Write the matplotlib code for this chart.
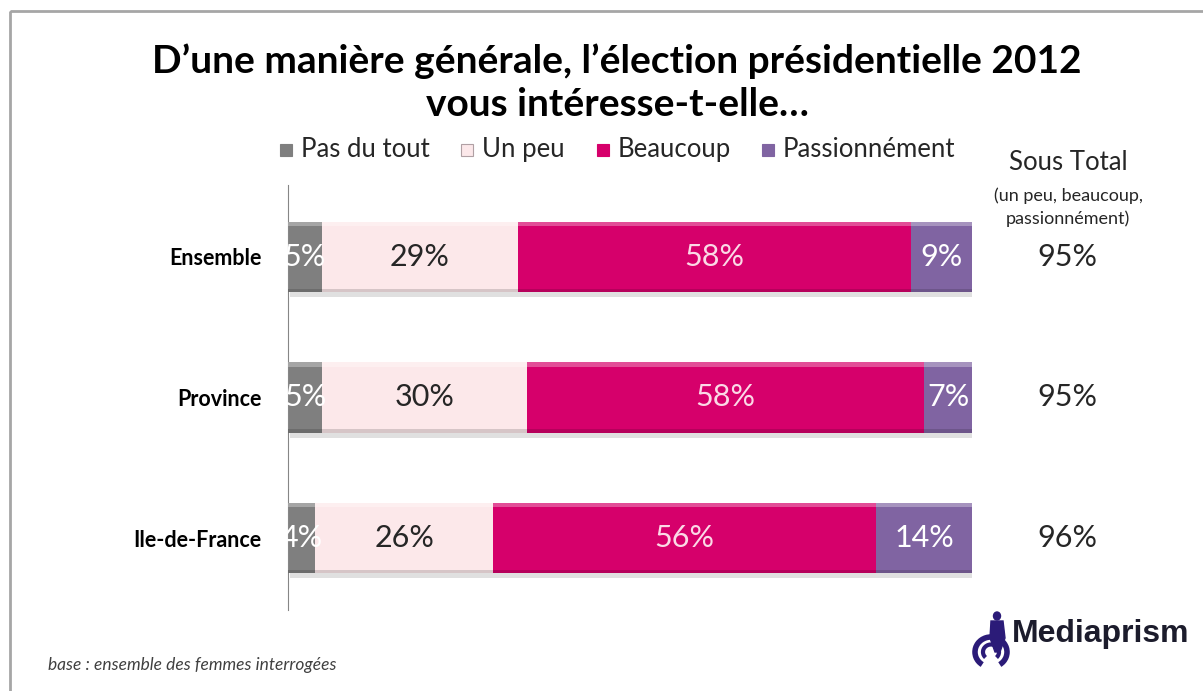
import numpy as np
import matplotlib.pyplot as plt
from matplotlib.patches import Rectangle, Arc, Ellipse, Polygon
from matplotlib.colors import to_rgb

plt.rcParams['font.family'] = ['Lato', 'DejaVu Sans']

categories = ['Ensemble', 'Province', 'Ile-de-France']
series = ['Pas du tout', 'Un peu', 'Beaucoup', 'Passionnément']
pas_du_tout = [5, 5, 4]
un_peu = [29, 30, 26]
beaucoup = [58, 58, 56]
passionnement = [9, 7, 14]
sous_total = [95, 95, 96]

colors = ['#7f7f7f', '#fce8ea', '#d6006b', '#8064a2']
txt_colors = ['white', '#262626', '#fbd9e6', 'white']

W, H = 1203, 691
fig = plt.figure(figsize=(W / 100, H / 100), dpi=100)

# overlay in pixel coordinates for texts and decorations
ov = fig.add_axes([0, 0, 1, 1])
ov.set_xlim(0, W)
ov.set_ylim(H, 0)
ov.axis('off')

ov.add_patch(Rectangle((10, 11), W, H, fill=False, ec='#a6a6a6', lw=2))

ov.text(617, 61, "D’une manière générale, l’élection présidentielle 2012",
        ha='center', va='center', fontsize=28, fontweight='bold', color='black')
ov.text(617, 104, "vous intéresse-t-elle…",
        ha='center', va='center', fontsize=28, fontweight='bold', color='black')

# legend
leg_x = [280, 461, 597, 762]
for x, name, c in zip(leg_x, series, colors):
    ov.add_patch(Rectangle((x, 144), 12, 12, fc=c, ec='#b0a0a4' if c == '#fce8ea' else c, lw=0.8))
    ov.text(x + 21, 149, name, ha='left', va='center', fontsize=18.5, color='#262626')

# sous total column
ov.text(1068, 162, 'Sous Total', ha='center', va='center', fontsize=18.5, color='#262626')
ov.text(1068, 196, '(un peu, beaucoup,', ha='center', va='center', fontsize=13, color='#262626')
ov.text(1068, 219, 'passionnément)', ha='center', va='center', fontsize=13, color='#262626')

ov.text(48, 665, 'base : ensemble des femmes interrogées', ha='left', va='center',
        fontsize=12.5, style='italic', color='#404040')

# logo
logo = '#2b1b78'
ov.add_patch(Arc((991, 652), 32, 30, theta1=125, theta2=415, lw=4, color=logo))
ov.add_patch(Arc((991, 652), 16, 15, theta1=135, theta2=405, lw=3, color=logo))
ov.add_patch(Ellipse((997, 616), 7, 8, color=logo))
ov.add_patch(Polygon([(991, 621), (1003, 621), (1005, 638), (1000, 652), (995, 652), (990, 638)],
                     closed=True, color=logo))
ov.text(1012, 634, 'Mediaprism', ha='left', va='center', fontsize=23, fontweight='bold',
        color='#1c1c2c', family=['Liberation Sans', 'DejaVu Sans'])

# main bar chart
ax = fig.add_axes([288 / W, 1 - 610 / H, (972 - 288) / W, (610 - 185) / H])
ax.patch.set_alpha(0)

data = np.array([pas_du_tout, un_peu, beaucoup, passionnement], dtype=float)
shares = data / data.sum(axis=0) * 100
y = np.arange(len(categories))
h = 0.5


def shade(c, f):
    r = np.array(to_rgb(c))
    if f > 0:
        return tuple(r + (1 - r) * f)
    return tuple(r * (1 + f))


left = np.zeros(len(categories))
for i in range(len(series)):
    w = shares[i]
    # drop shadow
    ax.barh(y + 0.035, w, h, left=left + 0.25, color='#cccccc', alpha=0.6, zorder=1)
    ax.barh(y, w, h, left=left, color=colors[i], zorder=2)
    # bevel: light top, darker bottom
    ax.barh(y - h / 2 + 0.015, w, 0.03, left=left, color=shade(colors[i], 0.3), zorder=3)
    ax.barh(y + h / 2 - 0.012, w, 0.024, left=left, color=shade(colors[i], -0.15), zorder=3)
    for j in range(len(categories)):
        ax.text(left[j] + w[j] / 2, y[j], f'{int(data[i, j])}%', ha='center', va='center',
                fontsize=22, color=txt_colors[i], zorder=4)
    left += w

for j in range(len(categories)):
    ax.text(1.14, y[j], f'{sous_total[j]}%', transform=ax.get_yaxis_transform(),
            ha='center', va='center', fontsize=22, color='#262626')

ax.set_xlim(0, 100)
ax.set_ylim(2.512, -0.512)
ax.set_yticks(y)
ax.set_yticklabels(categories, fontsize=15.5, fontweight='bold')
ax.tick_params(axis='y', length=0, pad=19)
ax.set_xticks([])
for s in ['top', 'right', 'bottom']:
    ax.spines[s].set_visible(False)
ax.spines['left'].set_color('#868686')

fig.savefig('out.png', dpi=100)
